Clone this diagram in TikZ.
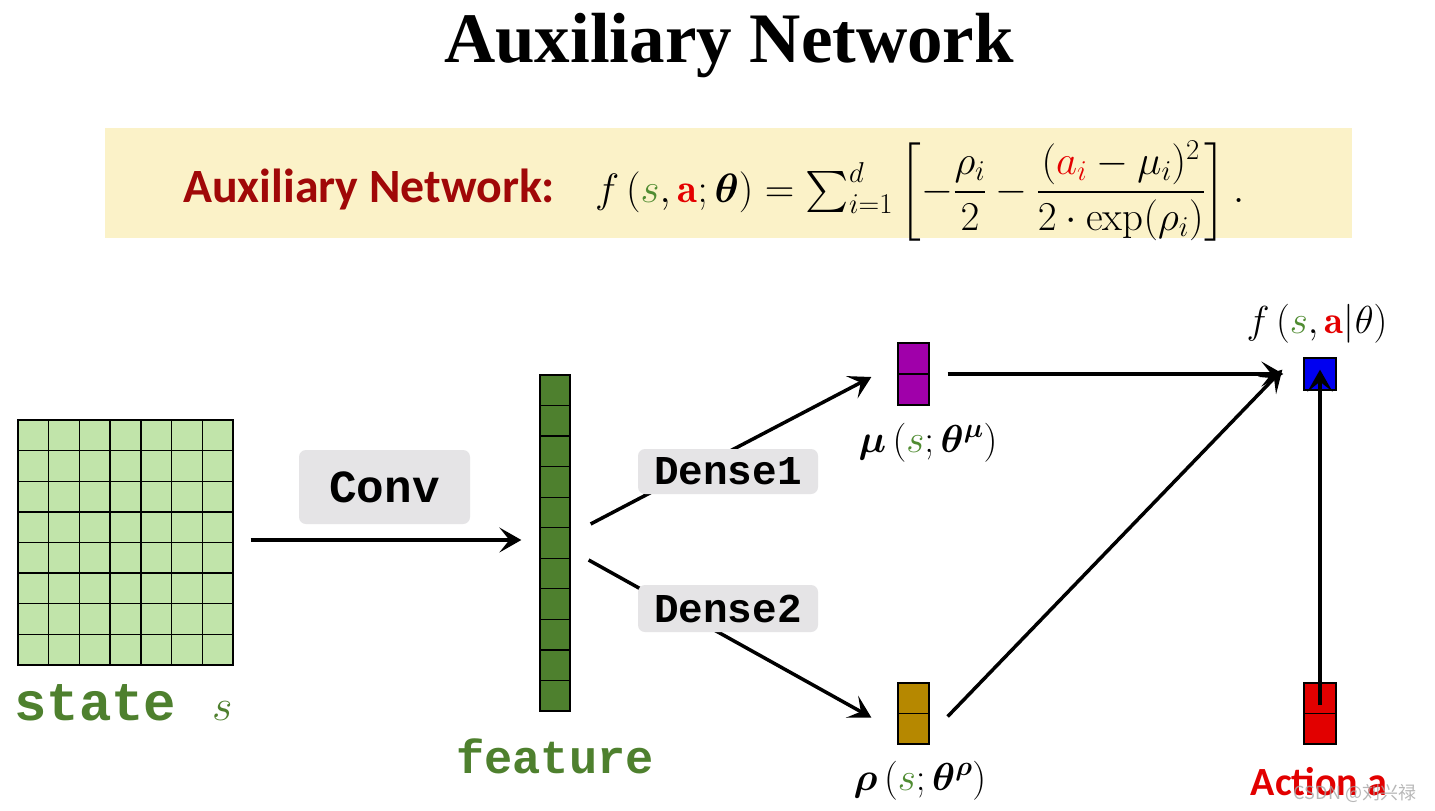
\RequirePackage{fix-cm}
\documentclass[tikz,border=0pt]{standalone}
\usepackage{fontspec}
\usepackage{amsmath,bm}
\DeclareFontShape{OMX}{cmex}{m}{n}{<-7.5>cmex7<7.5-8.5>cmex8<8.5-9.5>cmex9<9.5->cmex10}{}
\usetikzlibrary{arrows.meta}
\newfontfamily\titlefont{Liberation Serif}
\newfontfamily\califont{Carlito}
\newfontfamily\cmono{Liberation Mono}
\newfontfamily\cjkfont{Noto Sans CJK SC}
\definecolor{bandyellow}{RGB}{251,242,200}
\definecolor{darkred}{RGB}{160,8,8}
\definecolor{sgreen}{RGB}{80,140,50}
\definecolor{ared}{RGB}{228,0,0}
\definecolor{gridgreen}{RGB}{193,228,170}
\definecolor{featgreen}{RGB}{78,128,46}
\definecolor{mupurple}{RGB}{160,0,170}
\definecolor{rhogold}{RGB}{182,136,0}
\definecolor{fblue}{RGB}{0,0,240}
\definecolor{actred}{RGB}{226,0,0}
\definecolor{boxgray}{RGB}{229,228,230}
\tikzset{
  arr/.style={line width=3.5pt,-{Stealth[length=22pt,width=25pt,inset=10pt]}},
  cellbox/.style={draw=black,line width=1.3pt,inner sep=0pt},
  labelbox/.style={fill=boxgray,rounded corners=7pt,inner sep=0pt},
  mathlab/.style={font=\fontsize{39}{45}\selectfont,inner sep=0pt}
}
\begin{document}
\begin{tikzpicture}[x=1pt,y=-1pt]
\useasboundingbox (0,0) rectangle (1435,811);
\fill[white] (0,0) rectangle (1435,811);
% title
\node[anchor=base,font=\titlefont\bfseries\fontsize{71}{80}\selectfont,inner sep=0pt] (title) at (729,62) {Auxiliary Network};
% formula band
\node[fill=bandyellow,minimum width=1247pt,minimum height=110pt,inner sep=0pt] (band) at (728.5,183) {};
\node[anchor=base west,font=\califont\bfseries\fontsize{47.8}{54}\selectfont,text=darkred,inner sep=0pt] (auxlab) at (183,202) {Auxiliary Network:};
\node[anchor=base west,inner sep=0pt,font=\fontsize{41}{48}\selectfont] (formula) at (595,202)
  {$f\,({\color{sgreen}s},{\color{ared}\mathbf{a}};\bm{\theta}) = \sum_{i=1}^{d}\left[-\dfrac{\rho_i}{2}-\dfrac{({\color{ared}a_i}-\mu_i)^2}{2\cdot\exp(\rho_i)}\right].$};
% state grid
\node[fill=gridgreen,draw=black,line width=1.3pt,minimum width=215pt,minimum height=245pt,inner sep=0pt] (state) at (125.5,542.5) {};
\foreach \i in {1,...,6} \draw[line width=1.3pt] (18+\i*30.714,420) -- (18+\i*30.714,665);
\foreach \j in {1,...,7} \draw[line width=1.3pt] (18,420+\j*30.625) -- (233,420+\j*30.625);
\node[anchor=base west,text=featgreen,font=\cmono\bfseries\fontsize{54}{60}\selectfont,inner sep=0pt] (statelab) at (14,720) {state};
\node[anchor=base west,inner sep=0pt,font=\fontsize{44}{50}\selectfont,text=featgreen] (slab) at (212,720) {$s$};
% feature column
\node[cellbox,fill=featgreen,minimum width=30pt,minimum height=336pt] (feat) at (555,543) {};
\foreach \j in {1,...,10} \draw[line width=1.3pt] (540,375+\j*30.545) -- (570,375+\j*30.545);
\node[anchor=base,text=featgreen,font=\cmono\bfseries\fontsize{47}{52}\selectfont,inner sep=0pt] (featlab) at (555,773) {feature};
% mu, rho, f, action boxes
\node[cellbox,fill=mupurple,minimum width=31pt,minimum height=62pt] (mu) at (913.5,374) {};
\draw[line width=1.3pt] (mu.west) -- (mu.east);
\node[cellbox,fill=rhogold,minimum width=31pt,minimum height=61pt] (rho) at (913.5,713.5) {};
\draw[line width=1.3pt] (rho.west) -- (rho.east);
\node[cellbox,fill=fblue,minimum width=32pt,minimum height=32pt] (f) at (1320,374) {};
\node[cellbox,fill=actred,minimum width=32pt,minimum height=61pt] (act) at (1320,713.5) {};
\draw[line width=1.3pt] (act.west) -- (act.east);
% labels
\node[mathlab,anchor=base] (mulab) at (928,452) {$\bm{\mu}\,({\color{sgreen}s};\bm{\theta}^{\bm{\mu}})$};
\node[mathlab,anchor=base] (rholab) at (920,790) {$\bm{\rho}\,({\color{sgreen}s};\bm{\theta}^{\bm{\rho}})$};
\node[mathlab,anchor=base] (flab) at (1317,333) {$f\,({\color{sgreen}s},{\color{ared}\mathbf{a}}|\theta)$};
\node[anchor=base,font=\califont\bfseries\fontsize{40}{46}\selectfont,text=actred,inner sep=0pt] (actlab) at (1319,795) {Action a};
% connectors
\draw[arr] ([xshift=17pt]state.east |- 0,540) -- ([xshift=-18pt]feat.west |- 0,540);
\node[labelbox,minimum width=171pt,minimum height=74pt,font=\cmono\bfseries\fontsize{46}{52}\selectfont] (conv) at (384.5,487) {Conv};
\draw[arr] ([shift={(20pt,19pt)}]feat.east) -- ([shift={(-26pt,-3pt)}]mu.west);
\draw[arr] ([shift={(18pt,-17pt)}]feat.east) -- ([shift={(-26pt,-4pt)}]rho.west);
\node[labelbox,minimum width=180pt,minimum height=45pt,font=\cmono\bfseries\fontsize{41}{46}\selectfont] (dense1) at (728,471.5) {Dense1};
\node[labelbox,minimum width=180pt,minimum height=47pt,font=\cmono\bfseries\fontsize{41}{46}\selectfont] (dense2) at (728,608.5) {Dense2};
\draw[arr] ([xshift=18pt]mu.east) -- ([xshift=-20pt]f.west);
\draw[arr] ([shift={(18pt,-3pt)}]rho.east) -- ([shift={(-21pt,21pt)}]f.south west);
\draw[arr] ([yshift=-23pt]act.north) -- ([yshift=21pt]f.south);
% watermark
\node[anchor=base,font=\cjkfont\fontsize{18}{20}\selectfont,text=gray!70,opacity=0.8,inner sep=0pt] (wm) at (1355,799) {CSDN @刘兴禄};
\end{tikzpicture}
\end{document}
